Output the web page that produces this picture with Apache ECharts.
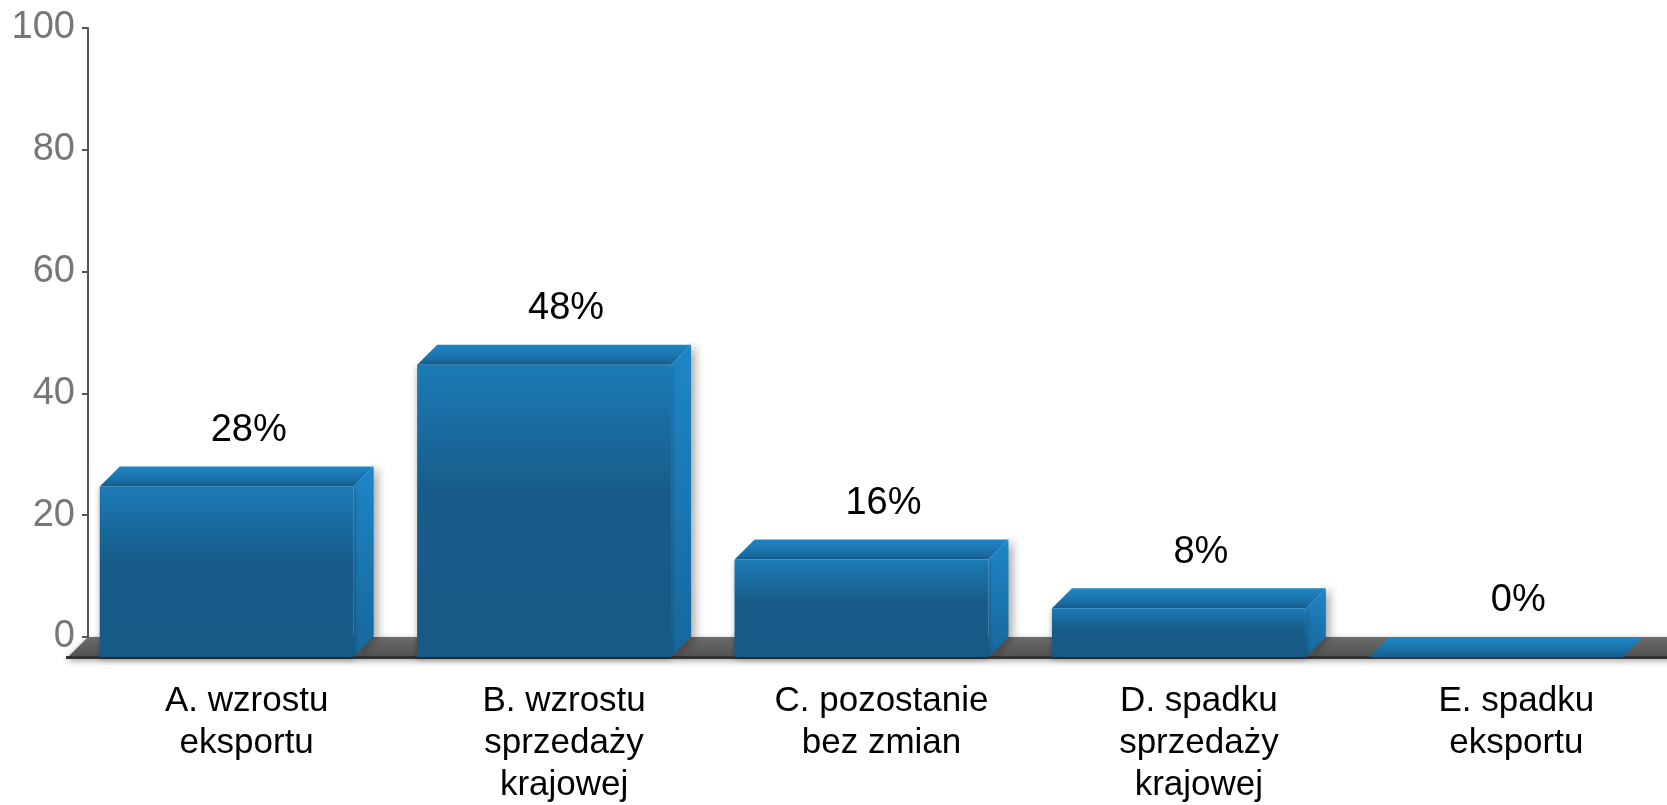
<!DOCTYPE html>
<html>
<head>
<meta charset="utf-8">
<script src="https://cdn.jsdelivr.net/npm/echarts@6/dist/echarts.min.js"></script>
<style>
html,body{margin:0;padding:0;background:#fff;}
#chart{width:1667px;height:805px;}
</style>
</head>
<body>
<div id="chart"></div>
<script>
// dane z wykresu
var categories = ['A. wzrostu\neksportu', 'B. wzrostu\nsprzedaży\nkrajowej', 'C. pozostanie\nbez zmian', 'D. spadku\nsprzedaży\nkrajowej', 'E. spadku\neksportu'];
var values = [28, 48, 16, 8, 0];
var yMin = 0, yMax = 100, yStep = 20;

var FONT = '"Liberation Sans", Arial, sans-serif';
var DEPTH = 20;

function grad(x1, y1, x2, y2, stops) {
    return new echarts.graphic.LinearGradient(x1, y1, x2, y2, stops);
}

// "podloga" pod slupkami
function renderFloor(params, api) {
    var cs = params.coordSys;
    var y0 = api.coord([0, 0])[1];
    var x0 = cs.x, x1 = cs.x + cs.width + 60;
    var d = DEPTH + 2;
    return {
        type: 'group',
        children: [
            {
                type: 'polygon',
                shape: {points: [[x0, y0], [x1, y0], [x1 - d, y0 + d], [x0 - d, y0 + d]]},
                style: {
                    fill: grad(0, 0, 0, 1, [{offset: 0, color: '#6c6c6c'}, {offset: 1, color: '#4e4e4e'}]),
                    shadowColor: 'rgba(0,0,0,0.35)', shadowBlur: 6, shadowOffsetY: 2
                }
            },
            {
                type: 'rect',
                shape: {x: x0 - d, y: y0 + d - 3, width: x1 - x0, height: 3},
                style: {fill: '#333'}
            }
        ]
    };
}

function renderBar(params, api) {
    var i = api.value(0), v = api.value(1);
    var top = api.coord([i, v]);
    var base = api.coord([i, 0]);
    var w = api.size([1, 0])[0] * 0.8;
    var d = DEPTH;
    var xl = top[0] - w / 2, xr = top[0] + w / 2;
    var yt = top[1], yb = base[1];
    var fxl = xl - d, fxr = xr - d, fyt = yt + d, fyb = yb + d;
    var kids = [];
    // bok
    kids.push({
        type: 'polygon',
        shape: {points: [[fxr, fyt], [xr, yt], [xr, yb], [fxr, fyb]]},
        style: {
            fill: grad(0, 0, 0, 1, [{offset: 0, color: '#1e86c6'}, {offset: 1, color: '#17679c'}]),
            shadowColor: 'rgba(0,0,0,0.35)', shadowBlur: 10, shadowOffsetX: 4
        }
    });
    // gora
    kids.push({
        type: 'polygon',
        shape: {points: [[fxl, fyt], [xl, yt], [xr, yt], [fxr, fyt]]},
        style: {fill: grad(0, 0, 0, 1, [{offset: 0, color: '#1f86c6'}, {offset: 0.6, color: '#1b72aa'}, {offset: 1, color: '#185f90'}])}
    });
    // przod
    if (fyb - fyt > 0.5) {
        kids.push({
            type: 'rect',
            shape: {x: fxl, y: fyt, width: w, height: fyb - fyt},
            style: {
                fill: grad(0, 0, 0, 1, [{offset: 0, color: '#1c7bb6'}, {offset: 0.45, color: '#175b88'}, {offset: 1, color: '#175a86'}]),
                shadowColor: 'rgba(0,0,0,0.3)', shadowBlur: 6, shadowOffsetY: 2
            }
        });
    }
    kids.push({
        type: 'text',
        style: {
            x: (xl + xr) / 2 + 2, y: yt - 17,
            text: v + '%',
            fill: '#000',
            font: '38px ' + FONT,
            textAlign: 'center', textVerticalAlign: 'bottom'
        }
    });
    return {type: 'group', children: kids};
}

var chart = echarts.init(document.getElementById('chart'));
chart.setOption({
    animation: false,
    backgroundColor: '#fff',
    grid: {left: 88, top: 28, width: 1587, height: 609, containLabel: false, outerBoundsMode: 'none'},
    xAxis: {
        type: 'category',
        data: categories,
        boundaryGap: true,
        axisLine: {show: false},
        axisTick: {show: false},
        splitLine: {show: false},
        axisLabel: {
            interval: 0, margin: 43,
            color: '#000', fontSize: 35, lineHeight: 42, fontFamily: FONT
        }
    },
    yAxis: {
        type: 'value',
        min: yMin, max: yMax, interval: yStep,
        splitLine: {show: false},
        axisLine: {show: true, lineStyle: {color: '#555', width: 2}},
        axisTick: {show: true, length: 6, lineStyle: {color: '#555', width: 2}},
        axisLabel: {margin: 13, color: '#777', fontSize: 38, fontFamily: FONT}
    },
    series: [
        {
            type: 'custom',
            renderItem: renderFloor,
            data: [[0, 0]],
            z: 1,
            silent: true
        },
        {
            type: 'custom',
            renderItem: renderBar,
            data: values.map(function (v, i) { return [i, v]; }),
            z: 2
        }
    ]
});
</script>
</body>
</html>
